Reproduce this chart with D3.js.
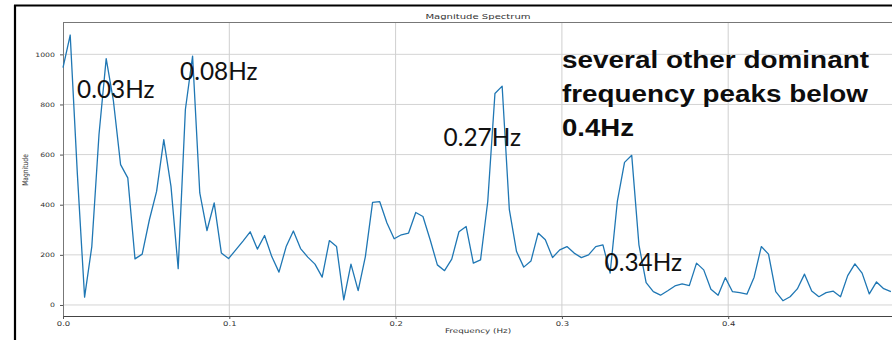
<!DOCTYPE html>
<html>
<head>
<meta charset="utf-8">
<script src="https://cdn.jsdelivr.net/npm/d3@7"></script>
<style>
  body { margin: 0; background: #fff; }
  svg { display: block; }
</style>
</head>
<body>
<div class="canvas"></div>
<script>
// FFT bin spacing (Hz) and magnitude of each bin
const binWidth = 1 / 231;
const magnitude = [947, 1077, 520, 31, 233, 680, 983, 815, 560, 507,
    184, 203, 340, 453, 660, 473, 145, 780, 993, 447,
    297, 407, 207, 185, 220, 255, 292, 223, 277, 193,
    131, 233, 295, 225, 191, 163, 111, 257, 233, 20,
    163, 57, 193, 409, 412, 327, 264, 280, 287, 369,
    353, 260, 160, 137, 183, 292, 313, 167, 180, 413,
    844, 873, 380, 213, 151, 175, 287, 260, 189, 220,
    233, 207, 189, 200, 233, 240, 127, 413, 569, 597,
    240, 89, 53, 39, 57, 76, 84, 77, 167, 140,
    63, 39, 109, 53, 49, 43, 111, 233, 203, 53,
    17, 33, 64, 123, 56, 33, 49, 55, 33, 117,
    164, 127, 44, 92, 65, 53];

const xTicks = [0, 0.1, 0.2, 0.3, 0.4];
const yTicks = [0, 200, 400, 600, 800, 1000];
const peakLabels = ['0.03Hz', '0.08Hz', '0.27Hz', '0.34Hz'];
const noteLines = ['several other dominant', 'frequency peaks below', '0.4Hz'];

const width = 892, height = 340;
const plotLeft = 63, plotTop = 22, plotBottom = 316;

const svg = d3.select('.canvas')
    .append('svg')
    .attr('width', width)
    .attr('height', height);

const x = d3.scaleLinear().domain([0, 0.5]).range([plotLeft, 894.5]);
const y = d3.scaleLinear().domain([-44, 1129]).range([plotBottom, plotTop]);

// screenshot frame (black, top + left)
svg.append('line').attr('x1', 14).attr('x2', width).attr('y1', 5.5).attr('y2', 5.5)
    .attr('stroke', '#000').attr('stroke-width', 1.8);
svg.append('line').attr('x1', 15).attr('x2', 15).attr('y1', 5).attr('y2', height)
    .attr('stroke', '#000').attr('stroke-width', 2.2);

// grid
svg.append('g').selectAll('line')
    .data(yTicks)
    .enter().append('line')
    .attr('x1', plotLeft).attr('x2', width)
    .attr('y1', d => y(d)).attr('y2', d => y(d))
    .attr('stroke', '#d4d4d4').attr('stroke-width', 1);
svg.append('g').selectAll('line')
    .data(xTicks.slice(1))
    .enter().append('line')
    .attr('x1', d => x(d)).attr('x2', d => x(d))
    .attr('y1', plotTop).attr('y2', plotBottom)
    .attr('stroke', '#cfcfcf').attr('stroke-width', 1);

// top spine
svg.append('line').attr('x1', plotLeft).attr('x2', width)
    .attr('y1', plotTop + 0.5).attr('y2', plotTop + 0.5)
    .attr('stroke', '#777').attr('stroke-width', 1);

// axes
const xAxisGroup = svg.append('g').attr('transform', `translate(0, ${plotBottom})`);
const yAxisGroup = svg.append('g').attr('transform', `translate(${plotLeft}, 0)`);

xAxisGroup.call(d3.axisBottom(x).tickValues(xTicks).tickFormat(d3.format('.1f'))
    .tickSize(3).tickSizeOuter(0));
yAxisGroup.call(d3.axisLeft(y).tickValues(yTicks).tickFormat(d3.format('d'))
    .tickSize(3).tickSizeOuter(0));

xAxisGroup.select('.domain').attr('d', `M${plotLeft},0.5H${width}`).attr('stroke', '#444');
yAxisGroup.select('.domain').attr('d', `M0.5,${plotTop}V${plotBottom}`).attr('stroke', '#777');
svg.selectAll('.tick line').attr('stroke', '#555');

xAxisGroup.selectAll('text')
    .attr('y', 10.5).attr('dy', 0)
    .attr('transform', 'scale(1.3,1)')
    .style('font-family', 'DejaVu Sans').style('font-size', '6.5px').attr('fill', '#333');
yAxisGroup.selectAll('text')
    .attr('x', -8 / 1.3)
    .attr('transform', 'scale(1.3,1)')
    .style('font-family', 'DejaVu Sans').style('font-size', '6px').attr('fill', '#333');

// spectrum line
const line = d3.line()
    .x((d, i) => x(i * binWidth))
    .y(d => y(d));

svg.append('path')
    .datum(magnitude)
    .attr('d', line)
    .attr('fill', 'none')
    .attr('stroke', '#1f77b4')
    .attr('stroke-width', 1.3)
    .attr('stroke-linejoin', 'round');

// titles
svg.append('text')
    .attr('transform', 'translate(478, 18.7) scale(1.38,1)')
    .attr('text-anchor', 'middle')
    .style('font-family', 'DejaVu Sans').style('font-size', '7.3px').attr('fill', '#333')
    .text('Magnitude Spectrum');
svg.append('text')
    .attr('transform', 'translate(478, 333) scale(1.35,1)')
    .attr('text-anchor', 'middle')
    .style('font-family', 'DejaVu Sans').style('font-size', '6.5px').attr('fill', '#333')
    .text('Frequency (Hz)');
svg.append('text')
    .attr('transform', 'translate(28, 170) scale(1.3,1) rotate(-90)')
    .attr('text-anchor', 'middle')
    .style('font-family', 'DejaVu Sans').style('font-size', '6px').attr('fill', '#333')
    .text('Magnitude');

// peak annotations
const labelPos = [[77, 97.5], [180, 79.5], [443.5, 145.5], [604.5, 271]];
svg.append('g').selectAll('text')
    .data(peakLabels)
    .enter().append('text')
    .attr('x', (d, i) => labelPos[i][0])
    .attr('y', (d, i) => labelPos[i][1])
    .attr('textLength', 77.5)
    .attr('lengthAdjust', 'spacingAndGlyphs')
    .style('font-family', 'Lato, "Liberation Sans Narrow", sans-serif')
    .style('font-size', '25.5px')
    .attr('fill', '#111')
    .text(d => d);

// note
const noteLen = [307, 306, 72];
svg.append('g').selectAll('text')
    .data(noteLines)
    .enter().append('text')
    .attr('x', 562)
    .attr('y', (d, i) => 68.3 + i * 33.6)
    .attr('textLength', (d, i) => noteLen[i])
    .attr('lengthAdjust', 'spacingAndGlyphs')
    .style('font-family', '"Liberation Sans", Arial, sans-serif')
    .style('font-weight', 'bold')
    .style('font-size', '24.7px')
    .attr('fill', '#0d0d0d')
    .text(d => d);
</script>
</body>
</html>
